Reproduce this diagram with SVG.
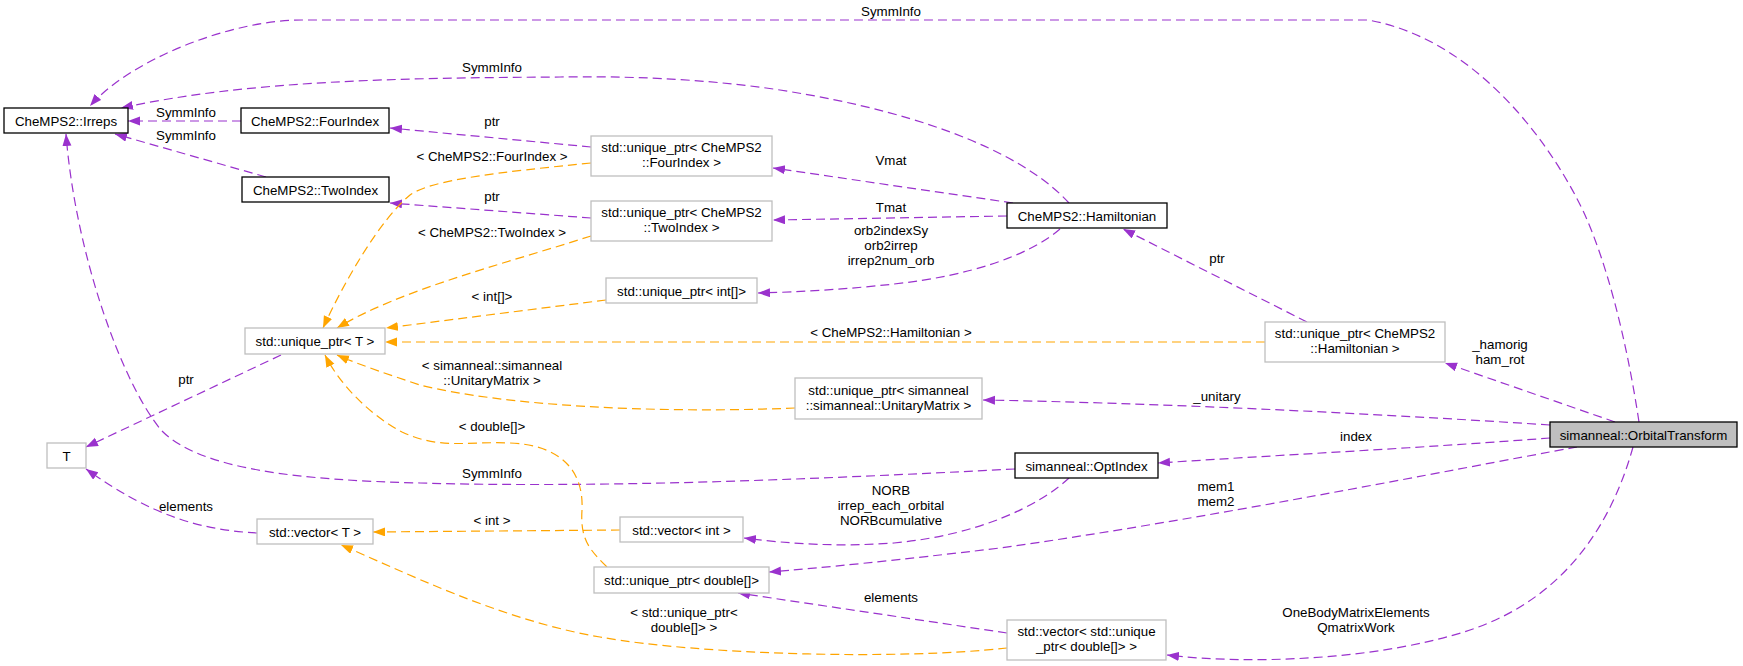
<svg xmlns="http://www.w3.org/2000/svg" width="1743" height="666" viewBox="0 0 1743 666">
<style>
text{font-family:"Liberation Sans",Arial,Helvetica,sans-serif;font-size:13.33px;fill:#000;text-anchor:middle}
.node rect{fill:#fff;stroke:#bfbfbf;stroke-width:1.3}
.node.doc rect{stroke:#000}
.node.cur rect{fill:#bfbfbf;stroke:#000}
.e path{fill:none;stroke-width:1.2;stroke-dasharray:9,5}
.p path{stroke:#9a32cd;marker-end:url(#ap)}
.o path{stroke:#ffa500;marker-end:url(#ao)}
</style>
<defs>
<marker id="ap" markerUnits="userSpaceOnUse" markerWidth="13" markerHeight="10" refX="12" refY="4.5" orient="auto"><path d="M0,0 L12,4.5 L0,9 z" fill="#9a32cd"/></marker>
<marker id="ao" markerUnits="userSpaceOnUse" markerWidth="13" markerHeight="10" refX="12" refY="4.5" orient="auto"><path d="M0,0 L12,4.5 L0,9 z" fill="#ffa500"/></marker>
</defs>
<rect width="1743" height="666" fill="#fff"/>
<g id="connectors">
<g class="e p">
<path d="M1639,422 C1625,330 1605,260 1585,215 C1555,150 1480,40 1368,20 L302,20 C230,20 130,60 90,106"/>
<path d="M1069,203 C1030,160 940,115 780,90 C700,78 620,76 560,77 C400,78 250,80 121,108"/>
<path d="M241,121 L128,121"/>
<path d="M266,177 L115,134"/>
<path d="M591,147 L390,128"/>
<path d="M591,218 L390,203"/>
<path d="M1013,203 L773,168"/>
<path d="M1007,216 L773,220"/>
<path d="M1060,229 C1030,255 970,276 894,284 C850,289 800,292 758,293"/>
<path d="M1307,322 L1123,229"/>
<path d="M1615,422 L1445,363"/>
<path d="M1550,425 C1350,412 1150,403 983,400"/>
<path d="M1550,438 C1420,448 1280,455 1158,463"/>
<path d="M1577,447 C1450,470 1200,520 1000,548 C900,560 820,568 769,572"/>
<path d="M1633,447 C1610,530 1560,600 1470,630 C1380,660 1250,665 1167,655"/>
<path d="M1015,469 C800,480 600,488 420,483 C300,480 200,470 161,430 C120,380 75,250 66,134"/>
<path d="M1069,478 C1040,505 980,535 894,543 C840,547 790,544 744,538"/>
<path d="M1007,633 L738,593"/>
<path d="M281,355 L86,447"/>
<path d="M257,533 C200,530 150,515 86,469"/>
</g>
<g class="e o">
<path d="M591,163 C500,172 430,180 410,195 C380,220 345,280 323,328"/>
<path d="M591,236 C500,265 400,290 337,328"/>
<path d="M606,300 L386,328"/>
<path d="M1265,342 L385,342"/>
<path d="M795,408 C650,414 500,405 420,385 C390,375 360,365 337,355"/>
<path d="M607,567 C590,550 580,540 582,510 C584,470 560,445 510,443 C470,441 440,450 402,432 C370,415 340,385 325,355"/>
<path d="M620,530 L373,532"/>
<path d="M1007,648 C900,660 700,655 600,637 C500,620 400,570 341,545"/>
</g>
<g id="edge-labels">
<text x="891" y="16">SymmInfo</text>
<text x="492" y="72">SymmInfo</text>
<text x="186" y="117">SymmInfo</text>
<text x="186" y="140">SymmInfo</text>
<text x="492" y="126">ptr</text>
<text x="492" y="161">&lt; CheMPS2::FourIndex &gt;</text>
<text x="891" y="165">Vmat</text>
<text x="492" y="201">ptr</text>
<text x="891" y="212">Tmat</text>
<text x="492" y="237">&lt; CheMPS2::TwoIndex &gt;</text>
<text x="891" y="235">orb2indexSy</text>
<text x="891" y="250">orb2irrep</text>
<text x="891" y="265">irrep2num_orb</text>
<text x="1217" y="263">ptr</text>
<text x="492" y="301">&lt; int[]&gt;</text>
<text x="891" y="337">&lt; CheMPS2::Hamiltonian &gt;</text>
<text x="1500" y="349">_hamorig</text>
<text x="1500" y="364">ham_rot</text>
<text x="492" y="370">&lt; simanneal::simanneal</text>
<text x="492" y="385">::UnitaryMatrix &gt;</text>
<text x="186" y="384">ptr</text>
<text x="1217" y="401">_unitary</text>
<text x="492" y="431">&lt; double[]&gt;</text>
<text x="1356" y="441">index</text>
<text x="492" y="478">SymmInfo</text>
<text x="1216" y="491">mem1</text>
<text x="1216" y="506">mem2</text>
<text x="891" y="495">NORB</text>
<text x="891" y="510">irrep_each_orbital</text>
<text x="891" y="525">NORBcumulative</text>
<text x="186" y="511">elements</text>
<text x="492" y="525">&lt; int &gt;</text>
<text x="891" y="602">elements</text>
<text x="684" y="617">&lt; std::unique_ptr&lt;</text>
<text x="684" y="632">double[]&gt; &gt;</text>
<text x="1356" y="617">OneBodyMatrixElements</text>
<text x="1356" y="632">QmatrixWork</text>
</g>
</g>
<g id="n-irreps" class="node doc"><rect x="4" y="108" width="124" height="25"/><text x="66" y="125.5">CheMPS2::Irreps</text></g>
<g id="n-fourindex" class="node doc"><rect x="241" y="108" width="148" height="25"/><text x="315" y="125.5">CheMPS2::FourIndex</text></g>
<g id="n-twoindex" class="node doc"><rect x="242" y="177" width="147" height="25"/><text x="315.5" y="194.5">CheMPS2::TwoIndex</text></g>
<g id="n-up-fourindex" class="node"><rect x="591" y="136" width="181" height="40"/><text x="681.5" y="152">std::unique_ptr&lt; CheMPS2</text><text x="681.5" y="167">::FourIndex &gt;</text></g>
<g id="n-up-twoindex" class="node"><rect x="591" y="201" width="181" height="40"/><text x="681.5" y="217">std::unique_ptr&lt; CheMPS2</text><text x="681.5" y="232">::TwoIndex &gt;</text></g>
<g id="n-hamiltonian" class="node doc"><rect x="1007" y="203" width="160" height="25"/><text x="1087" y="220.5">CheMPS2::Hamiltonian</text></g>
<g id="n-up-int" class="node"><rect x="606" y="278" width="151" height="25"/><text x="681.5" y="295.5">std::unique_ptr&lt; int[]&gt;</text></g>
<g id="n-up-t" class="node"><rect x="245" y="328" width="140" height="26"/><text x="315" y="345.5">std::unique_ptr&lt; T &gt;</text></g>
<g id="n-t" class="node"><rect x="47" y="443" width="39" height="25"/><text x="66.5" y="460.5">T</text></g>
<g id="n-up-ham" class="node"><rect x="1265" y="322" width="180" height="40"/><text x="1355" y="338">std::unique_ptr&lt; CheMPS2</text><text x="1355" y="353">::Hamiltonian &gt;</text></g>
<g id="n-up-unitary" class="node"><rect x="795" y="378" width="187" height="41"/><text x="888.5" y="395">std::unique_ptr&lt; simanneal</text><text x="888.5" y="410">::simanneal::UnitaryMatrix &gt;</text></g>
<g id="n-orbitaltransform" class="node cur"><rect x="1550" y="422" width="187" height="25"/><text x="1643.5" y="439.5">simanneal::OrbitalTransform</text></g>
<g id="n-optindex" class="node doc"><rect x="1015" y="453" width="143" height="25"/><text x="1086.5" y="470.5">simanneal::OptIndex</text></g>
<g id="n-vector-t" class="node"><rect x="257" y="519" width="116" height="25"/><text x="315" y="536.5">std::vector&lt; T &gt;</text></g>
<g id="n-vector-int" class="node"><rect x="620" y="517" width="123" height="25"/><text x="681.5" y="534.5">std::vector&lt; int &gt;</text></g>
<g id="n-up-double" class="node"><rect x="594" y="567" width="175" height="26"/><text x="681.5" y="584.5">std::unique_ptr&lt; double[]&gt;</text></g>
<g id="n-vector-up-double" class="node"><rect x="1007" y="620" width="159" height="40"/><text x="1086.5" y="636">std::vector&lt; std::unique</text><text x="1086.5" y="651">_ptr&lt; double[]&gt; &gt;</text></g>
</svg>
